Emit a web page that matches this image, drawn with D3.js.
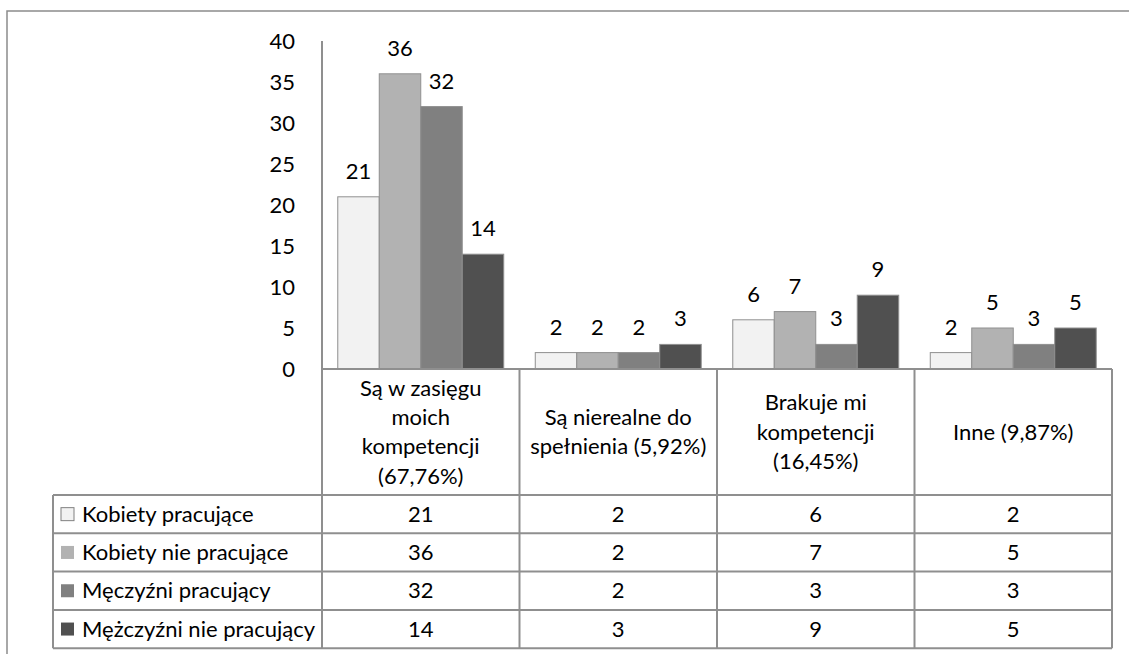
<!DOCTYPE html>
<html>
<head>
<meta charset="utf-8">
<script src="https://cdn.jsdelivr.net/npm/d3@7"></script>
<style>
  html, body { margin: 0; padding: 0; background: #fff; }
  svg { display: block; }
  text { font-family: Lato, "Open Sans", sans-serif; fill: #000; }
</style>
</head>
<body>
<svg id="chart" width="1129" height="654"></svg>
<script>
// Answers grouped by category, one value per respondent group
const categories = [
  "Są w zasięgu\nmoich\nkompetencji\n(67,76%)",
  "Są nierealne do\nspełnienia (5,92%)",
  "Brakuje mi\nkompetencji\n(16,45%)",
  "Inne (9,87%)"
];
const seriesNames = [
  "Kobiety pracujące",
  "Kobiety nie pracujące",
  "Męczyźni pracujący",
  "Mężczyźni nie pracujący"
];
const kobietyPracujace    = [21, 2, 6, 2];
const kobietyNiePracujace = [36, 2, 7, 5];
const mezczyzniPracujacy  = [32, 2, 3, 3];
const mezczyzniNiePracujacy = [14, 3, 9, 5];
const yTicks = [0, 5, 10, 15, 20, 25, 30, 35, 40];

const seriesValues = [kobietyPracujace, kobietyNiePracujace, mezczyzniPracujacy, mezczyzniNiePracujacy];
const fills = ["#f2f2f2", "#b2b2b2", "#808080", "#505050"];
const lineColor = "#8f8f8f";
const fontSize = 22;

const svg = d3.select("#chart");

// layout
const plotLeft = 322, plotRight = 1112;
const plotTop = 41, zeroY = 369;
const legendLeft = 53;
const headerBottom = 495;
const rowH = 38.3;
const gapWidth = 0.76;   // gap between groups relative to bar width

const x0 = d3.scaleBand().domain(d3.range(categories.length)).range([plotLeft, plotRight]);
const bw = x0.bandwidth();
const barW = bw / (seriesNames.length + gapWidth);
const x1 = d3.scaleBand().domain(d3.range(seriesNames.length))
  .range([barW * gapWidth / 2, bw - barW * gapWidth / 2]);
const y = d3.scaleLinear().domain([0, 40]).range([zeroY, plotTop]);

// outer frame (top and left edges)
svg.append("path")
  .attr("d", "M7,654 V11 H1129")
  .attr("fill", "none").attr("stroke", "#8c8c8c").attr("stroke-width", 1.5);

// y axis
const yAxis = svg.append("g")
  .attr("transform", `translate(${plotLeft},0)`)
  .call(d3.axisLeft(y).tickValues(yTicks).tickSize(0).tickPadding(27));
yAxis.select(".domain").remove();
yAxis.selectAll("text")
  .attr("font-family", "Lato, 'Open Sans', sans-serif")
  .attr("font-size", fontSize).attr("fill", "#000");

// bars
const groups = svg.append("g").selectAll("g")
  .data(categories.map((c, i) => i))
  .join("g")
  .attr("transform", i => `translate(${x0(i)},0)`);

groups.selectAll("rect")
  .data(i => seriesValues.map((vals, s) => ({ s, v: vals[i] })))
  .join("rect")
  .attr("x", d => x1(d.s))
  .attr("y", d => y(d.v))
  .attr("width", x1.bandwidth())
  .attr("height", d => zeroY - y(d.v))
  .attr("fill", d => fills[d.s])
  .attr("stroke", lineColor)
  .attr("stroke-width", 1);

groups.selectAll("text.lbl")
  .data(i => seriesValues.map((vals, s) => ({ s, v: vals[i] })))
  .join("text")
  .attr("class", "lbl")
  .attr("x", d => x1(d.s) + x1.bandwidth() / 2)
  .attr("y", d => y(d.v) - 18)
  .attr("text-anchor", "middle")
  .attr("font-size", fontSize)
  .text(d => d.v);

// data table
const table = svg.append("g").attr("stroke", lineColor).attr("stroke-width", 2).attr("fill", "none");
const rowYs = d3.range(seriesNames.length + 1).map(r => headerBottom + r * rowH);
const tableBottom = rowYs[rowYs.length - 1];

// axis line down through the table
table.append("line").attr("x1", plotLeft).attr("x2", plotLeft).attr("y1", plotTop).attr("y2", tableBottom);
// category header top
table.append("line").attr("x1", plotLeft).attr("x2", plotRight).attr("y1", zeroY).attr("y2", zeroY);
// category column separators
categories.forEach((c, i) => {
  const xr = x0(i) + bw;
  table.append("line").attr("x1", xr).attr("x2", xr).attr("y1", zeroY).attr("y2", tableBottom);
});
// legend column left edge
table.append("line").attr("x1", legendLeft).attr("x2", legendLeft).attr("y1", headerBottom).attr("y2", tableBottom);
// row lines
rowYs.forEach(ry => {
  table.append("line").attr("x1", legendLeft).attr("x2", plotRight).attr("y1", ry).attr("y2", ry);
});

// category labels
const lineH = 29.3;
categories.forEach((c, i) => {
  const lines = c.split("\n");
  const cy = (zeroY + headerBottom) / 2;
  const t = svg.append("text")
    .attr("x", x0(i) + bw / 2)
    .attr("text-anchor", "middle")
    .attr("font-size", fontSize);
  lines.forEach((ln, k) => {
    t.append("tspan")
      .attr("x", x0(i) + bw / 2)
      .attr("y", cy + (k - (lines.length - 1) / 2) * lineH)
      .attr("dy", "0.35em")
      .text(ln);
  });
});

// legend rows with keys and values
seriesNames.forEach((name, s) => {
  const cy = rowYs[s] + rowH / 2;
  svg.append("rect")
    .attr("x", 61).attr("y", cy - 6.5)
    .attr("width", 13).attr("height", 13)
    .attr("fill", fills[s])
    .attr("stroke", s === 0 ? "#808080" : "none");
  svg.append("text")
    .attr("x", 82).attr("y", cy).attr("dy", "0.35em")
    .attr("font-size", fontSize)
    .text(name);
  seriesValues[s].forEach((v, i) => {
    svg.append("text")
      .attr("x", x0(i) + bw / 2).attr("y", cy).attr("dy", "0.35em")
      .attr("text-anchor", "middle")
      .attr("font-size", fontSize)
      .text(v);
  });
});
</script>
</body>
</html>
